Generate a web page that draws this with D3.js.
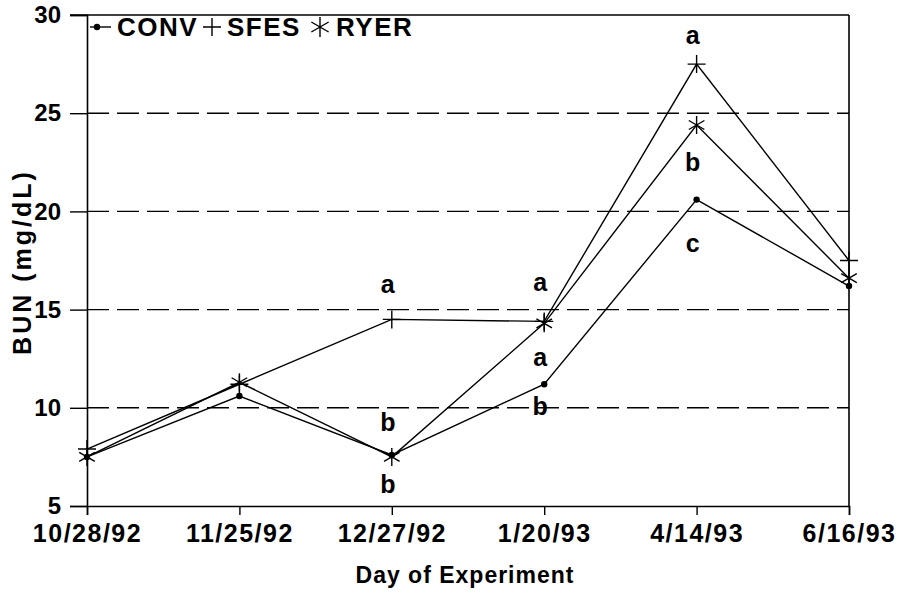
<!DOCTYPE html>
<html><head><meta charset="utf-8">
<script src="https://cdn.jsdelivr.net/npm/d3@7"></script>
<style>body{margin:0;background:#fff}svg{display:block}text{font-family:"Liberation Sans",Arial,sans-serif;font-weight:bold;fill:#000}</style>
</head><body><svg id="c" width="910" height="594"></svg>
<script>
const dates = ["10/28/92","11/25/92","12/27/92","1/20/93","4/14/93","6/16/93"];
const conv = [7.5, 10.6, 7.6, 11.2, 20.6, 16.2];
const sfes = [7.9, 11.2, 14.5, 14.4, 27.5, 17.5];
const ryer = [7.5, 11.3, 7.5, 14.3, 24.4, 16.6];
const yTicks = [5, 10, 15, 20, 25, 30];
const gridValues = [10, 15, 20, 25];
const letterDates = ["12/27/92","12/27/92","12/27/92","1/20/93","1/20/93","1/20/93","4/14/93","4/14/93","4/14/93"];
const letterTexts = ["a","b","b","a","a","b","a","b","c"];
const letterValues = [16.3, 9.3, 6.1, 16.4, 12.6, 10.1, 29.0, 22.5, 18.4];
const seriesNames = ["CONV","SFES","RYER"];

const svg = d3.select("#c");
const x = d3.scalePoint().domain(dates).range([87, 849]);
const y = d3.scaleLinear().domain([5, 30]).range([506, 15]);

// grid
svg.append("g").selectAll("line").data(gridValues).join("line")
  .attr("x1", 87).attr("x2", 849).attr("y1", d => y(d)).attr("y2", d => y(d))
  .attr("stroke", "#000").attr("stroke-width", 1.4).attr("stroke-dasharray", "22,8");

// frame top and right
svg.append("line").attr("x1", 70).attr("x2", 849).attr("y1", y(30)).attr("y2", y(30)).attr("stroke","#000").attr("stroke-width",1.6);
svg.append("line").attr("x1", 849).attr("x2", 849).attr("y1", y(30)).attr("y2", y(5)).attr("stroke","#000").attr("stroke-width",1.6);

// y axis
const ya = svg.append("g").attr("transform", "translate(87,0)")
  .call(d3.axisLeft(y).tickValues(yTicks).tickSize(17).tickPadding(9).tickFormat(d3.format("d")));
ya.select(".domain").attr("stroke-width", 1.6);
ya.selectAll(".tick line").attr("stroke-width", 1.4);
ya.selectAll("text").style("font-size", "24px").attr("fill", "#000");

// x axis
const xa = svg.append("g").attr("transform", `translate(0,${y(5)})`)
  .call(d3.axisBottom(x).tickSize(9).tickPadding(9));
xa.select(".domain").attr("stroke-width", 1.6);
xa.selectAll(".tick line").attr("stroke-width", 1.4);
xa.selectAll("text").style("font-size", "25px").style("letter-spacing", "1.5px").attr("fill", "#000");

// axis titles
svg.append("text").attr("x", 465).attr("y", 583).attr("text-anchor", "middle")
  .style("font-size", "23px").style("letter-spacing", "1px").text("Day of Experiment");
svg.append("text").attr("transform", "translate(31,262) rotate(-90)").attr("text-anchor", "middle")
  .style("font-size", "25px").style("letter-spacing", "3px").text("BUN (mg/dL)");

const line = d3.line().x((d, i) => x(dates[i])).y(d => y(d));
const allSeries = [conv, sfes, ryer];
allSeries.forEach(s => {
  svg.append("path").attr("d", line(s)).attr("fill", "none").attr("stroke", "#000").attr("stroke-width", 1.4);
});

function dot(g, cx, cy) {
  g.append("circle").attr("cx", cx).attr("cy", cy).attr("r", 3.2).attr("fill", "#000");
}
function plus(g, cx, cy, r) {
  g.append("path").attr("d", `M${cx - r},${cy}H${cx + r}M${cx},${cy - r}V${cy + r}`).attr("stroke", "#000").attr("stroke-width", 1.4).attr("fill","none");
}
function star(g, cx, cy, r) {
  let d = "";
  [90, 30, 150].forEach(a => {
    const dx = r * Math.cos(a * Math.PI / 180), dy = r * Math.sin(a * Math.PI / 180);
    d += `M${cx - dx},${cy - dy}L${cx + dx},${cy + dy}`;
  });
  g.append("path").attr("d", d).attr("stroke", "#000").attr("stroke-width", 1.4).attr("fill","none");
}
const mk = svg.append("g");
conv.forEach((v, i) => dot(mk, x(dates[i]), y(v)));
sfes.forEach((v, i) => plus(mk, x(dates[i]), y(v), 9));
ryer.forEach((v, i) => star(mk, x(dates[i]), y(v), 9));

// significance letters
svg.append("g").selectAll("text").data(letterTexts).join("text")
  .attr("x", (d, i) => x(letterDates[i]) - 4)
  .attr("y", (d, i) => y(letterValues[i]))
  .attr("dominant-baseline", "central").attr("text-anchor", "middle")
  .style("font-size", "25px").text(d => d);

// legend
const lg = svg.append("g");
lg.append("line").attr("x1", 90).attr("x2", 111).attr("y1", 27).attr("y2", 27).attr("stroke","#000").attr("stroke-width",1.4);
dot(lg, 97, 27);
lg.append("text").attr("x", 117).attr("y", 36).style("font-size", "26px").style("letter-spacing","1.5px").text(seriesNames[0]);
plus(lg, 212, 27, 9);
lg.append("text").attr("x", 227).attr("y", 36).style("font-size", "26px").style("letter-spacing","1.5px").text(seriesNames[1]);
star(lg, 320, 27, 10);
lg.append("text").attr("x", 336).attr("y", 36).style("font-size", "26px").style("letter-spacing","1.5px").text(seriesNames[2]);
</script></body></html>
